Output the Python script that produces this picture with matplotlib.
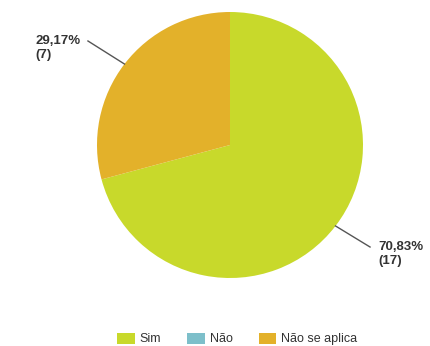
import numpy as np
import matplotlib
matplotlib.use('Agg')
import matplotlib.pyplot as plt
from matplotlib.patches import Patch

# Survey answers
categories = ['Sim', 'Não', 'Não se aplica']
counts = [17, 0, 7]
percents = ['70,83%', '0%', '29,17%']
colors = ['#c8d92b', '#7dbfca', '#e3b12a']

plt.rcParams['font.family'] = ['Liberation Sans', 'DejaVu Sans']

W, H = 430, 346
fig = plt.figure(figsize=(W / 100, H / 100), dpi=100)

# pie centre at (230,145) px, radius 133 px
cx, cy, r = 230, 145, 133
ax = fig.add_axes([(cx - r) / W, 1 - (cy + r) / H, 2 * r / W, 2 * r / H])

wedges, _ = ax.pie(counts, colors=colors, startangle=90, counterclock=False,
                   radius=1, wedgeprops=dict(linewidth=0))
ax.set_xlim(-1, 1)
ax.set_ylim(-1, 1)
ax.set_aspect('equal')
ax.axis('off')

# leader lines and labels for non-empty slices
label_pos = {0: (1.113, -0.82), 2: (-1.466, 0.73)}
line_end = {0: (1.053, -0.767), 2: (-1.068, 0.782)}
for i, w in enumerate(wedges):
    if counts[i] == 0:
        continue
    ang = np.deg2rad((w.theta1 + w.theta2) / 2)
    ex, ey = np.cos(ang), np.sin(ang)
    lx, ly = line_end[i]
    ax.plot([ex, lx], [ey, ly], color='#555555', lw=1, clip_on=False)
    tx, ty = label_pos[i]
    ax.text(tx, ty, f'{percents[i]}\n({counts[i]})', ha='left', va='center',
            fontsize=9.5, fontweight='bold', color='#333333',
            linespacing=1.25, clip_on=False)

handles = [Patch(facecolor=c, edgecolor='none') for c in colors]
fig.legend(handles, categories, loc='center', ncol=3,
           bbox_to_anchor=(0.552, 1 - 339 / H), frameon=False,
           fontsize=9, handlelength=1.4, handleheight=1.0,
           handletextpad=0.4, columnspacing=2.1, labelcolor='#333333')

fig.savefig('out.png', dpi=100, facecolor='white')
